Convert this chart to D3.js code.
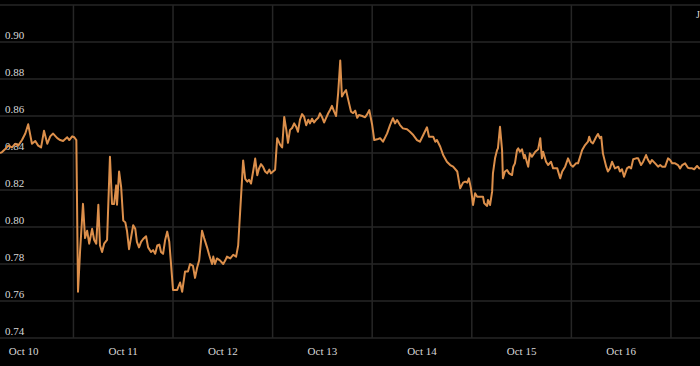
<!DOCTYPE html>
<html>
<head>
<meta charset="utf-8">
<script src="https://cdn.jsdelivr.net/npm/d3@7"></script>
<style>
  html, body { margin: 0; padding: 0; background: #000; }
  svg { display: block; }
  .grid line { stroke: #262626; stroke-width: 1.5; }
  .grid .domain { display: none; }
  text { font-family: "Liberation Serif", serif; fill: #d8d8d8; }
</style>
</head>
<body>
<div id="chart"></div>
<script>
// hours after Oct 10 00:00
var hours = [
  -5.7, -5.2, -4.5, -3.7, -2.8, -2.0, -1.3, -0.4, 0.4, 1.1, 2.0, 2.8, 3.5, 4.2, 4.9, 5.7, 6.4, 7.1, 8.1, 8.8,
  9.5, 10.5, 11.0, 11.7, 12.2, 12.7, 13.1, 13.6, 14.3, 14.8, 15.3, 15.8, 16.5, 17.0, 17.5, 18.0, 18.4, 18.9, 19.4, 20.1,
  20.8, 21.3, 21.8, 22.3, 22.5, 23.0, 23.5, 24.0, 24.5, 24.9, 25.4, 25.9, 26.4, 26.9, 27.3, 27.8, 28.3, 28.8, 29.5, 30.0,
  30.7, 31.2, 31.7, 32.2, 32.7, 33.1, 33.6, 34.1, 34.6, 35.1, 36.0, 37.0, 37.7, 38.2, 38.9, 39.6, 40.1, 40.8, 41.3, 41.8,
  42.3, 43.0, 43.5, 44.2, 44.7, 45.4, 45.7, 46.1, 46.6, 47.3, 48.1, 48.6, 49.0, 49.8, 50.5, 51.2, 51.7, 52.9, 53.4, 53.9,
  54.3, 54.8, 55.3, 55.8, 56.3, 56.7, 57.2, 57.7, 58.2, 58.7, 59.2, 59.6, 60.1, 60.6, 61.1, 61.8, 62.3, 62.8, 63.3, 63.7,
  64.2, 64.7, 65.2, 65.7, 66.1, 66.6, 67.1, 67.6, 68.1, 68.6, 69.0, 69.5, 70.0, 70.5, 71.0, 71.4, 71.9, 72.4, 72.9, 73.4,
  73.9, 74.3, 74.8, 75.3, 75.8, 76.3, 76.7, 77.2, 77.7, 78.2, 78.9, 79.4, 79.9, 80.4, 80.8, 81.6, 82.3, 82.8, 83.3, 84.0,
  84.5, 85.2, 85.9, 86.6, 87.6, 88.3, 89.0, 89.5, 90.0, 90.7, 91.4, 92.4, 93.1, 93.9, 94.8, 95.5, 96.3, 97.2, 97.7, 98.7,
  99.2, 99.6, 100.4, 101.1, 102.0, 102.8, 103.5, 104.5, 105.2, 105.9, 106.4, 106.9, 107.3, 107.8, 108.3, 108.8, 109.3, 110.0, 110.7, 111.0,
  111.7, 111.9, 112.4, 112.9, 113.1, 113.6, 114.1, 114.3, 114.8, 115.3, 115.5, 116.0, 116.5, 117.0, 117.7, 118.0, 118.4, 118.9, 119.2, 119.6,
  120.1, 120.6, 120.8, 121.6, 122.0, 122.5, 123.3, 124.0, 124.5, 124.9, 125.2, 125.9, 126.4, 127.1, 127.6, 128.6, 129.3, 129.8, 130.5, 131.2,
  131.9, 132.4, 133.1, 133.6, 134.1, 134.6, 135.3, 136.0, 136.3, 136.7, 137.2, 138.0, 138.4, 138.9, 139.2, 139.6, 140.4, 140.8, 141.3, 141.8,
  142.5, 143.3, 143.7, 144.2, 144.7, 145.4, 145.9, 146.4, 146.9, 147.6, 148.1, 148.8, 149.3, 150.0, 150.5, 151.0, 151.4, 152.2, 152.9, 153.4,
  153.9, 154.6, 155.3, 155.8, 156.3, 157.0, 157.7, 158.2, 158.7, 159.4, 160.1, 160.6, 161.1, 161.6, 162.3, 162.8, 163.0
];

var rate = [
  0.840, 0.8405, 0.842, 0.844, 0.843, 0.845, 0.844, 0.847, 0.8505, 0.8555, 0.845, 0.8465, 0.844, 0.843, 0.852, 0.845, 0.849, 0.8505, 0.848, 0.847,
  0.8465, 0.8485, 0.847, 0.849, 0.8485, 0.847, 0.765, 0.787, 0.8125, 0.794, 0.798, 0.791, 0.799, 0.793, 0.791, 0.812, 0.790, 0.7865, 0.791, 0.793,
  0.838, 0.8125, 0.8125, 0.8225, 0.812, 0.830, 0.8215, 0.8035, 0.8025, 0.798, 0.788, 0.7945, 0.801, 0.799, 0.792, 0.789, 0.792, 0.7935, 0.795, 0.789,
  0.7865, 0.7875, 0.7855, 0.790, 0.7905, 0.7865, 0.7855, 0.793, 0.7975, 0.792, 0.766, 0.766, 0.770, 0.765, 0.776, 0.776, 0.780, 0.779, 0.7725, 0.778,
  0.782, 0.798, 0.794, 0.789, 0.785, 0.780, 0.784, 0.780, 0.783, 0.782, 0.780, 0.782, 0.784, 0.783, 0.785, 0.784, 0.790, 0.836, 0.826, 0.8245,
  0.8255, 0.8235, 0.830, 0.837, 0.828, 0.8315, 0.834, 0.8325, 0.830, 0.829, 0.831, 0.829, 0.830, 0.831, 0.848, 0.8445, 0.843, 0.8595, 0.8525, 0.8455,
  0.8525, 0.8535, 0.856, 0.854, 0.8515, 0.858, 0.861, 0.8595, 0.855, 0.858, 0.856, 0.8585, 0.8565, 0.858, 0.859, 0.8615, 0.8595, 0.8565, 0.859, 0.8615,
  0.8635, 0.8655, 0.8625, 0.860, 0.8725, 0.890, 0.8705, 0.8725, 0.874, 0.869, 0.8623, 0.8616, 0.8629, 0.859, 0.8605, 0.860, 0.8593, 0.861, 0.8632, 0.8551,
  0.847, 0.8474, 0.848, 0.8461, 0.8506, 0.8551, 0.8588, 0.856, 0.8578, 0.8551, 0.8533, 0.8528, 0.8515, 0.8497, 0.847, 0.8461, 0.8497, 0.8539, 0.8488, 0.8488,
  0.8461, 0.847, 0.8434, 0.8389, 0.8353, 0.8335, 0.8326, 0.830, 0.8209, 0.824, 0.8245, 0.824, 0.8263, 0.8209, 0.8119, 0.8182, 0.8164, 0.8164, 0.8164, 0.8128,
  0.8114, 0.8146, 0.8119, 0.8191, 0.829, 0.8371, 0.8416, 0.8425, 0.8542, 0.8416, 0.8263, 0.830, 0.8308, 0.829, 0.8281, 0.8326, 0.8344, 0.8416, 0.8425, 0.8407,
  0.842, 0.8371, 0.8389, 0.8326, 0.8398, 0.838, 0.8407, 0.842, 0.848, 0.8371, 0.8407, 0.8353, 0.8335, 0.8353, 0.8317, 0.8317, 0.8263, 0.830, 0.8326, 0.8371,
  0.8335, 0.8326, 0.8344, 0.8344, 0.838, 0.8416, 0.8443, 0.8461, 0.8488, 0.8461, 0.8452, 0.8488, 0.8503, 0.848, 0.8488, 0.8398, 0.8326, 0.830, 0.8317, 0.8353,
  0.8317, 0.8326, 0.830, 0.8312, 0.8272, 0.8317, 0.8326, 0.8317, 0.8366, 0.8371, 0.8371, 0.8335, 0.8353, 0.8389, 0.8362, 0.8344, 0.8362, 0.8344, 0.8326, 0.8335,
  0.8326, 0.8326, 0.8371, 0.8362, 0.8344, 0.8344, 0.8335, 0.8317, 0.8335, 0.8344, 0.832, 0.8317, 0.8317, 0.8312, 0.833, 0.8317, 0.832
];

var yTicks = [0.74, 0.76, 0.78, 0.80, 0.82, 0.84, 0.86, 0.88, 0.90, 0.92];
var cornerLabel = "J";

var width = 700, height = 366;
var plot = { top: 5, bottom: 338 };

var start = new Date(2024, 9, 10);
var data = hours.map(function(h, i) {
  return { date: new Date(start.getTime() + h * 3600e3), value: rate[i] };
});

var svg = d3.select('#chart')
  .append('svg')
  .attr('width', width)
  .attr('height', height);

var x = d3.scaleTime()
  .domain(d3.extent(data, function(d) { return d.date; }))
  .range([0, width]);

var y = d3.scaleLinear()
  .domain([0.74, 0.92])
  .range([plot.bottom, plot.top]);

// vertical grid at noon of each day
var noons = d3.timeDay.range(d3.timeDay.floor(x.domain()[0]), x.domain()[1])
  .map(function(d) { return d3.timeHour.offset(d, 12); })
  .filter(function(d) { return d > x.domain()[0] && d < x.domain()[1]; });

svg.append('g')
  .attr('class', 'grid')
  .selectAll('line.v')
  .data(noons)
  .enter().append('line')
    .attr('x1', function(d) { return x(d); })
    .attr('x2', function(d) { return x(d); })
    .attr('y1', plot.top)
    .attr('y2', plot.bottom);

// horizontal grid
svg.append('g')
  .attr('class', 'grid')
  .selectAll('line.h')
  .data(yTicks)
  .enter().append('line')
    .attr('x1', 0)
    .attr('x2', width)
    .attr('y1', function(d) { return y(d); })
    .attr('y2', function(d) { return y(d); });

// y labels sit just above their grid line
svg.append('g')
  .selectAll('text')
  .data(yTicks.slice(0, -1))
  .enter().append('text')
    .attr('x', 5)
    .attr('y', function(d) { return y(d) - 3; })
    .attr('font-size', 11)
    .text(d3.format('.2f'));

// x labels at midnight
var days = d3.timeDay.range(d3.timeDay.ceil(x.domain()[0]), x.domain()[1]);
var fmt = d3.timeFormat('%b %-d');
svg.append('g')
  .selectAll('text')
  .data(days)
  .enter().append('text')
    .attr('x', function(d) { return x(d); })
    .attr('y', 355)
    .attr('text-anchor', 'middle')
    .attr('font-size', 11)
    .text(fmt);

// the series
var line = d3.line()
  .x(function(d) { return x(d.date); })
  .y(function(d) { return y(d.value); });

svg.append('path')
  .datum(data)
  .attr('fill', 'none')
  .attr('stroke', '#dc8f4b')
  .attr('stroke-width', 2)
  .attr('stroke-linejoin', 'round')
  .attr('d', line);

svg.append('text')
  .attr('x', 696)
  .attr('y', 18)
  .attr('font-size', 10)
  .text(cornerLabel);
</script>
</body>
</html>
